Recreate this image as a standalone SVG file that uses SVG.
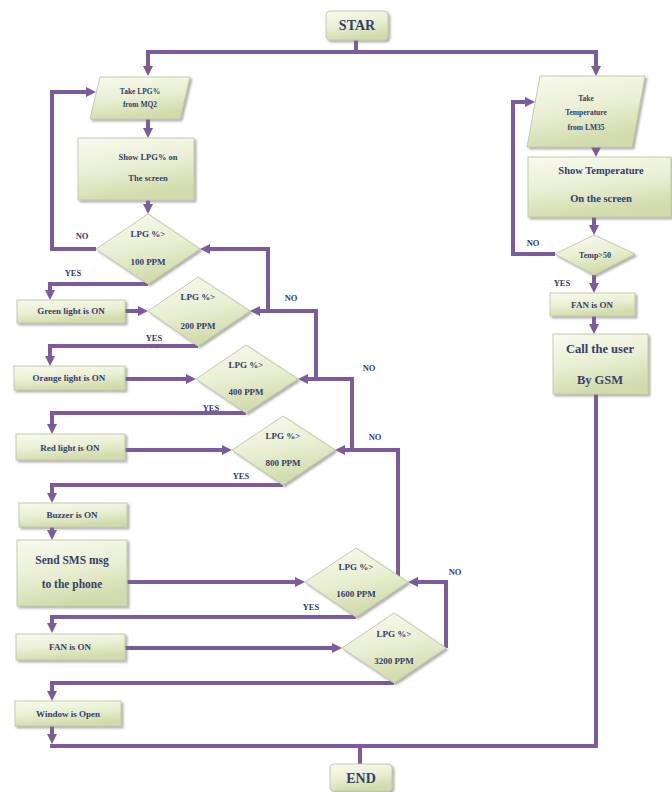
<svg xmlns="http://www.w3.org/2000/svg" width="672" height="792" viewBox="0 0 672 792">
<defs>
<linearGradient id="g" x1="0" y1="0" x2="0.3" y2="1">
<stop offset="0" stop-color="#f8faef"/>
<stop offset="0.55" stop-color="#e9efd3"/>
<stop offset="1" stop-color="#d2dbab"/>
</linearGradient>
<filter id="sh" x="-10%" y="-10%" width="125%" height="130%">
<feDropShadow dx="2" dy="2" stdDeviation="1.3" flood-color="#6f6f6f" flood-opacity="0.55"/>
</filter>
<marker id="ah" viewBox="0 0 10 10" refX="2" refY="5" markerWidth="10" markerHeight="10" markerUnits="userSpaceOnUse" orient="auto">
<path d="M0,0 L10,5 L0,10 z" fill="#7b5b9b"/>
</marker>
<style>
.n{fill:url(#g);stroke:#c3cbaa;stroke-width:1;filter:url(#sh)}
.t{font-family:"Liberation Serif","DejaVu Serif","Times New Roman",serif;font-weight:bold;fill:#33406a;text-anchor:middle}
.c{fill:none;stroke:#7b5b9b;stroke-width:4}
.a{marker-end:url(#ah)}
.l{font-family:"Liberation Serif","DejaVu Serif","Times New Roman",serif;font-weight:bold;fill:#33406a;font-size:8.5px;text-anchor:middle}
</style>
</defs>
<rect width="672" height="792" fill="#ffffff"/>

<g id="connectors">
<path class="c" d="M356 40 V52"/>
<path class="c a" d="M356 52 H148 V68"/>
<path class="c a" d="M356 52 H596 V68"/>
<path class="c a" d="M148 119 V130"/>
<path class="c a" d="M148 200 V206"/>
<path class="c a" d="M96 249 H52 V92 H88"/>
<path class="c a" d="M148 284 H50 V292"/>
<path class="c a" d="M125 311 H140"/>
<path class="c a" d="M268 311 V249 H208"/>
<path class="c a" d="M198 346 H50 V358"/>
<path class="c a" d="M125 379 H188"/>
<path class="c a" d="M316 379 V311 H258"/>
<path class="c a" d="M246 413 H52 V426"/>
<path class="c a" d="M125 450 H224"/>
<path class="c a" d="M352 450 V379 H306"/>
<path class="c a" d="M283 485 H52 V495"/>
<path class="c a" d="M52 527 V532"/>
<path class="c a" d="M127 582 H297"/>
<path class="c a" d="M398 582 V450 H343"/>
<path class="c a" d="M356 617 H52 V625"/>
<path class="c a" d="M125 648 H334"/>
<path class="c a" d="M446 648 V582 H416"/>
<path class="c a" d="M394 683 H52 V693"/>
<path class="c a" d="M52 726 V736"/>
<path class="c" d="M596 394 V746 H50"/>
<path class="c" d="M360 746 V764"/>
<path class="c a" d="M596 147 V149"/>
<path class="c a" d="M594 217 V227"/>
<path class="c a" d="M555 254 H513 V102 H527"/>
<path class="c a" d="M594 275 V285"/>
<path class="c a" d="M594 316 V326"/>
</g>

<g id="labels">
<text class="l" x="82" y="239">NO</text>
<text class="l" x="73" y="276">YES</text>
<text class="l" x="291" y="301">NO</text>
<text class="l" x="154" y="341">YES</text>
<text class="l" x="369" y="371">NO</text>
<text class="l" x="211" y="411">YES</text>
<text class="l" x="375" y="440">NO</text>
<text class="l" x="241" y="479">YES</text>
<text class="l" x="455" y="575">NO</text>
<text class="l" x="311" y="610">YES</text>
<text class="l" x="533" y="246">NO</text>
<text class="l" x="562" y="286">YES</text>
</g>

<g id="start">
<rect class="n" x="326" y="11" width="62" height="29" rx="4"/>
<text class="t" x="357" y="30" font-size="14">STAR</text>
</g>

<g id="take-lpg">
<polygon class="n" points="100,77 190,77 180,119 90,119"/>
<text class="t" x="140" y="94" font-size="7.5">Take LPG%</text>
<text class="t" x="140" y="107" font-size="7.5">from MQ2</text>
</g>

<g id="show-lpg">
<rect class="n" x="78" y="138" width="116" height="62"/>
<text class="t" x="148" y="160" font-size="8.5">Show LPG% on</text>
<text class="t" x="148" y="181" font-size="8.5">The screen</text>
</g>

<g id="d100">
<polygon class="n" points="148,214 200,249 148,284 96,249"/>
<text class="t" x="148" y="237" font-size="9">LPG %&gt;</text>
<text class="t" x="148" y="265" font-size="9">100 PPM</text>
</g>

<g id="green">
<rect class="n" x="17" y="300" width="108" height="23"/>
<text class="t" x="71" y="314" font-size="9">Green light is ON</text>
</g>

<g id="d200">
<polygon class="n" points="198,277 250,311 198,346 148,311"/>
<text class="t" x="198" y="300" font-size="9">LPG %&gt;</text>
<text class="t" x="198" y="329" font-size="9">200 PPM</text>
</g>

<g id="orange">
<rect class="n" x="14" y="366" width="111" height="24"/>
<text class="t" x="69" y="381" font-size="9">Orange light is ON</text>
</g>

<g id="d400">
<polygon class="n" points="246,345 298,379 246,413 196,379"/>
<text class="t" x="246" y="368" font-size="9">LPG %&gt;</text>
<text class="t" x="246" y="395" font-size="9">400 PPM</text>
</g>

<g id="red">
<rect class="n" x="16" y="434" width="109" height="26"/>
<text class="t" x="70" y="451" font-size="9">Red light is ON</text>
</g>

<g id="d800">
<polygon class="n" points="283,416 335,450 283,485 232,450"/>
<text class="t" x="283" y="439" font-size="9">LPG %&gt;</text>
<text class="t" x="283" y="466" font-size="9">800 PPM</text>
</g>

<g id="buzzer">
<rect class="n" x="19" y="503" width="108" height="24"/>
<text class="t" x="72" y="518" font-size="9">Buzzer is ON</text>
</g>

<g id="sms">
<rect class="n" x="17" y="540" width="110" height="66"/>
<text class="t" x="72" y="564" font-size="11.5">Send SMS msg</text>
<text class="t" x="72" y="588" font-size="11.5">to the phone</text>
</g>

<g id="d1600">
<polygon class="n" points="356,548 408,582 356,617 305,582"/>
<text class="t" x="356" y="570" font-size="9">LPG %&gt;</text>
<text class="t" x="356" y="597" font-size="9">1600 PPM</text>
</g>

<g id="fan-left">
<rect class="n" x="16" y="634" width="109" height="26"/>
<text class="t" x="70" y="650" font-size="9">FAN is ON</text>
</g>

<g id="d3200">
<polygon class="n" points="394,613 446,648 394,683 342,648"/>
<text class="t" x="394" y="637" font-size="9">LPG %&gt;</text>
<text class="t" x="394" y="664" font-size="9">3200 PPM</text>
</g>

<g id="window">
<rect class="n" x="15" y="701" width="106" height="25"/>
<text class="t" x="68" y="717" font-size="9">Window is Open</text>
</g>

<g id="end">
<rect class="n" x="330" y="764" width="62" height="27" rx="4"/>
<text class="t" x="361" y="783" font-size="14">END</text>
</g>

<g id="take-temp">
<polygon class="n" points="540,76 645,76 632,147 527,147"/>
<text class="t" x="586" y="101" font-size="7.5">Take</text>
<text class="t" x="586" y="115" font-size="7.5">Temperature</text>
<text class="t" x="586" y="130" font-size="7.5">from LM35</text>
</g>

<g id="show-temp">
<rect class="n" x="528" y="157" width="143" height="60"/>
<text class="t" x="601" y="174" font-size="10.5">Show Temperature</text>
<text class="t" x="601" y="202" font-size="10.5">On the screen</text>
</g>

<g id="dtemp">
<polygon class="n" points="594,235 635,254 594,275 555,254"/>
<text class="t" x="595" y="258" font-size="8">Temp&gt;50</text>
</g>

<g id="fan-right">
<rect class="n" x="550" y="293" width="85" height="23"/>
<text class="t" x="592" y="308" font-size="9">FAN is ON</text>
</g>

<g id="call">
<rect class="n" x="553" y="334" width="95" height="60"/>
<text class="t" x="600" y="353" font-size="12.5">Call the user</text>
<text class="t" x="600" y="384" font-size="12.5">By GSM</text>
</g>
</svg>
